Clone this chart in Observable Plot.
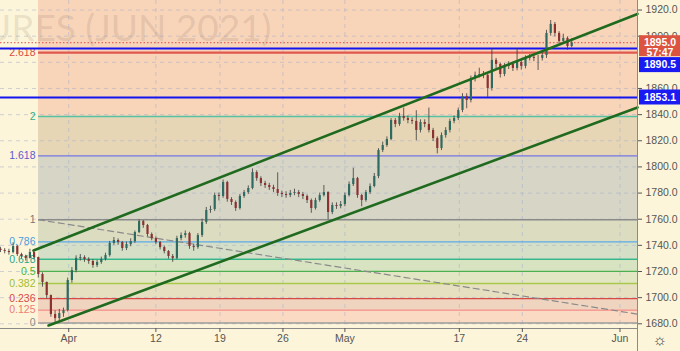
<!DOCTYPE html>
<html><head><meta charset="utf-8">
<script src="https://cdn.jsdelivr.net/npm/d3@7"></script>
<script src="https://cdn.jsdelivr.net/npm/@observablehq/plot@0.6"></script>
<style>
html,body{margin:0;padding:0;background:#fdf5d9;}
#chart{width:680px;height:351px;overflow:hidden;}
</style></head><body><div id="chart"></div>
<script>
// ---- data (session bars) ----
const firstOpen = 1737.0;
const closes = [1736.0,1735.3,1734.5,1739.1,1733.0,1731.5,1730.0,1734.5,1730.7,1717.7,
 1711.6,1701.6,1687.1,1684.0,1687.8,1690.1,1713.1,1720.7,1730.0,1730.7,
 1729.2,1727.7,1724.6,1726.9,1729.2,1732.2,1741.4,1743.7,1742.2,1737.6,
 1740.6,1742.9,1749.8,1758.2,1755.2,1748.3,1745.2,1742.2,1738.3,1735.3,
 1731.5,1730.0,1745.2,1747.5,1749.0,1739.1,1738.3,1747.5,1757.5,1766.7,
 1767.4,1778.1,1777.4,1788.1,1775.1,1772.8,1768.2,1777.4,1780.4,1783.5,
 1795.7,1791.1,1787.3,1785.8,1784.2,1782.7,1779.7,1778.9,1778.1,1779.7,
 1780.4,1778.9,1777.4,1774.3,1768.2,1774.3,1778.1,1780.4,1765.1,1770.5,
 1769.7,1771.2,1778.1,1786.5,1791.1,1778.1,1774.3,1780.4,1785.0,1792.7,
 1812.6,1816.4,1821.0,1835.5,1832.5,1838.6,1837.0,1835.5,1834.8,1827.9,
 1834.0,1832.5,1827.9,1821.7,1814.1,1824.0,1827.9,1834.8,1837.0,1843.2,
 1853.9,1850.8,1867.7,1870.0,1870.7,1870.0,1860.0,1881.5,1878.4,1870.7,
 1876.9,1878.4,1875.3,1879.9,1876.9,1883.0,1883.8,1883.0,1883.0,1885.2,
 1902.1,1909.0,1902.1,1896.0,1898.3,1892.1,1895.0];
const highs = [1738.5,1737.5,1737.0,1742.0,1740.0,1734.0,1732.5,1737.0,1735.0,1731.0,
 1719.0,1712.0,1702.0,1690.0,1691.0,1692.0,1715.0,1723.0,1732.0,1733.0,
 1732.0,1730.5,1729.0,1728.5,1731.0,1734.0,1743.0,1746.0,1745.0,1743.0,
 1742.5,1745.0,1751.0,1759.5,1759.0,1756.0,1749.5,1746.5,1743.0,1739.5,
 1736.0,1733.0,1747.0,1749.5,1751.0,1750.0,1741.0,1749.0,1760.0,1769.0,
 1770.0,1780.0,1780.0,1790.0,1789.0,1776.5,1774.0,1779.0,1782.0,1785.5,
 1798.5,1797.0,1792.5,1789.0,1787.5,1786.0,1795.5,1781.5,1781.0,1782.0,
 1783.0,1782.0,1780.5,1778.5,1775.5,1776.0,1780.0,1785.8,1781.0,1772.5,
 1772.5,1773.5,1780.0,1788.5,1799.0,1792.0,1779.0,1782.0,1787.0,1795.0,
 1814.0,1819.0,1823.0,1837.0,1837.0,1841.0,1845.0,1839.0,1837.5,1843.0,
 1836.0,1836.0,1845.0,1829.5,1823.0,1826.0,1830.0,1836.5,1839.0,1845.0,
 1856.0,1856.0,1869.5,1872.5,1875.5,1873.0,1871.5,1890.5,1883.0,1879.5,
 1879.0,1880.5,1880.0,1890.5,1882.0,1885.0,1886.0,1886.0,1885.5,1887.5,
 1904.5,1912.0,1910.5,1903.5,1901.5,1899.5,1898.0];
const lows = [1734.5,1733.5,1732.5,1733.5,1731.5,1729.5,1728.0,1729.5,1729.0,1715.0,
 1708.0,1699.0,1685.0,1680.6,1682.0,1685.0,1689.0,1711.0,1719.0,1728.0,
 1727.0,1725.5,1722.5,1723.0,1725.5,1728.0,1731.0,1740.0,1740.0,1735.5,
 1736.0,1739.0,1741.5,1749.0,1753.0,1746.5,1743.5,1740.5,1736.5,1733.5,
 1729.5,1727.0,1729.0,1743.5,1745.5,1737.0,1735.5,1737.0,1746.0,1756.0,
 1764.5,1766.0,1774.0,1776.0,1773.0,1770.5,1766.0,1767.0,1776.0,1779.0,
 1782.5,1789.0,1785.0,1783.5,1782.0,1780.5,1777.5,1776.5,1776.0,1776.5,
 1778.0,1776.5,1775.0,1772.0,1764.5,1767.0,1773.0,1777.0,1759.6,1763.5,
 1767.5,1768.0,1769.5,1777.0,1785.0,1776.0,1769.5,1773.0,1779.0,1784.0,
 1791.0,1811.0,1815.0,1820.0,1830.0,1831.0,1835.0,1833.0,1832.5,1820.0,
 1826.0,1830.0,1826.0,1819.5,1810.0,1812.5,1822.0,1826.0,1833.0,1835.5,
 1841.5,1844.5,1849.0,1865.0,1868.0,1867.5,1853.1,1858.0,1875.0,1868.0,
 1869.0,1874.5,1873.0,1873.5,1874.0,1875.0,1881.0,1880.5,1873.8,1881.0,
 1883.0,1900.0,1899.5,1894.0,1894.5,1889.3,1891.0];

const tickBars = [16.25, 37, 52.25, 67.25, 82, 109.25, 124.25, 147.5];
const tickLabels = ["Apr","12","19","26","May","17","24","Jun"];
const yTicks = [1680,1700,1720,1740,1760,1780,1800,1820,1840,1860,1880,1900,1920];
const yTickLabelsShown = [1680,1700,1720,1740,1760,1780,1800,1820,1840,1860,1900,1920]; // 1880 sits under a price tag

const fibLevels = [0,0.125,0.236,0.382,0.5,0.618,0.786,1,1.618,2,2.618];
const fibLabels = ["0","0.125","0.236","0.382","0.5","0.618","0.786","1","1.618","2","2.618"];
const fibLineColors = ["#9a9a9a","#f28a86","#d94a44","#a9c94c","#4cb050","#34b58c","#5aa8e4","#8a8a8a","#7474e0","#55c2a2","#e0584e"];
const fibLabelColors = ["#8a8a8a","#f07c78","#d94848","#9cc034","#48b83a","#26a88c","#4a9ee0","#777777","#5a5ad2","#30b088","#d84a40"];
const fibFillColors = ["#fadac3","#efd5c0","#e6dfc0","#e2e6c2","#d8e3c2","#d5dfc8","#dcdcc0","#d7d6c6","#e7d6b6","#f8d4b8","#f8d4b8"];
const fibPrice0 = 1680.6, fibPrice1 = 1759.6, fibStartBar = 9.05;

const hLines = [1890.5, 1853.1];
const lastPrice = 1895.0;
const countdown = "57:47";
const channelUpper = [{x:7.86,y:1736.0},{x:151.67,y:1917.0}];
const channelLower = [{x:11.43,y:1678.7},{x:151.67,y:1845.5}];
const dashedTrend = [{x:9.05,y:1759.6},{x:151.67,y:1687.4}];
const title = "GOLD FUTURES (JUN 2021)";

// ---- derived tables ----
const xMax = 151.67;
const yDom = [1676.4, 1927.3];
const bars = closes.map((c,i)=>({i, open: i ? closes[i-1] : firstOpen, close: c, high: highs[i], low: lows[i]}));
const fibPrice = L => fibPrice0 + L*(fibPrice1 - fibPrice0);
const fib = fibLevels.map((L,k)=>({L, label: fibLabels[k], price: fibPrice(L), line: fibLineColors[k], lab: fibLabelColors[k],
  w: L === 2.618 ? 2.2 : 1.4,
  y2: k < fibLevels.length-1 ? fibPrice(fibLevels[k+1]) : 1960, fill: fibFillColors[k]}));
const tickMap = new Map(tickBars.map((t,i)=>[t, tickLabels[i]]));
const font = "Liberation Sans, Arial, sans-serif";
const tagText = {x: xMax, y: d => d, text: d => d.toFixed(1), dx: 22.5, fill: "white", fontSize: 10.5, fontWeight: "bold"};
const tagBox = {x1: xMax, x2: xMax, y1: d => d, y2: d => d, insetLeft: 2, insetRight: -43};

const chart = Plot.plot({
  width: 680, height: 351,
  marginLeft: 0, marginRight: 43, marginTop: 0, marginBottom: 23,
  x: {domain: [0, xMax], axis: null},
  y: {domain: yDom, axis: null},
  color: {type: "identity"},
  style: {background: "#fdf5d9", fontFamily: font, overflow: "hidden"},
  marks: [
    Plot.rect(fib, {x1: fibStartBar, x2: xMax, y1: "price", y2: "y2", fill: "fill", clip: true}),
    Plot.ruleY(yTicks, {stroke: "#a8b0cc", strokeOpacity: 0.55, strokeDasharray: "4,4"}),
    Plot.ruleX(tickBars, {stroke: "#a8b0cc", strokeOpacity: 0.55, strokeDasharray: "4,4"}),
    Plot.text([title], {frameAnchor: "top-left", dx: 271, dy: 14, textAnchor: "end", fontSize: 37, fontFamily: "Lato, Roboto, sans-serif", fill: "#6b5a50", fillOpacity: 0.15}),
    Plot.ruleY(fib, {y: "price", x1: fibStartBar, x2: xMax, stroke: "line", strokeWidth: "w"}),
    Plot.line(dashedTrend, {x: "x", y: "y", stroke: "#8a8a8a", strokeDasharray: "6,4", strokeWidth: 1.2}),
    Plot.text(fib, {x: fibStartBar, y: "price", text: "label", fill: "lab", textAnchor: "end", dx: -3, fontSize: 10.5}),
    Plot.ruleY([lastPrice], {stroke: "#e04848", strokeDasharray: "1.5,2", strokeWidth: 1}),
    Plot.ruleY(hLines, {stroke: "#1414f0", strokeWidth: 2}),
    Plot.ruleX(bars, {x: "i", y1: "low", y2: "high", stroke: "#3a3a3a", strokeWidth: 0.8}),
    Plot.ruleX(bars, {x: "i", y1: "open", y2: "close", stroke: d => d.close >= d.open ? "#2f6a60" : "#8a3232", strokeWidth: 2.2}),
    Plot.line(channelUpper, {x: "x", y: "y", stroke: "#1f6a1f", strokeWidth: 2.6}),
    Plot.line(channelLower, {x: "x", y: "y", stroke: "#1f6a1f", strokeWidth: 2.6}),
    Plot.ruleY([yDom[0]], {stroke: "#8a8a8a", strokeWidth: 1}),
    Plot.ruleX([xMax], {stroke: "#8a8a8a", strokeWidth: 1, insetBottom: -23}),
    Plot.axisY(yTickLabelsShown, {anchor: "right", tickFormat: d => d.toFixed(1), tickSize: 4, tickPadding: 4, fontSize: 10.5, color: "#555", label: null}),
    Plot.axisX(tickBars, {anchor: "bottom", tickFormat: d => tickMap.get(d), tickSize: 4, tickPadding: 2, fontSize: 10.5, color: "#555", label: null}),
    // price tags: last price (with bar countdown), and the two horizontal levels
    Plot.rect([lastPrice], {...tagBox, insetTop: -7, insetBottom: -14, fill: "#dc5340"}),
    Plot.rect([hLines[0]], {...tagBox, insetTop: 9, insetBottom: -24, fill: "#1a1af2"}),
    Plot.rect([hLines[1]], {...tagBox, insetTop: -7.5, insetBottom: -7.5, fill: "#1a1af2"}),
    Plot.text([lastPrice], tagText),
    Plot.text([lastPrice], {...tagText, text: () => countdown, dy: 9.5}),
    Plot.text([hLines[0]], {...tagText, dy: 16.5}),
    Plot.text([hLines[1]], tagText),
    Plot.text(["☼"], {x: xMax, y: yDom[0], dx: 22, dy: 11, textAnchor: "middle", fontSize: 16, fill: "#444"})
  ]
});
document.getElementById("chart").appendChild(chart);
</script></body></html>
